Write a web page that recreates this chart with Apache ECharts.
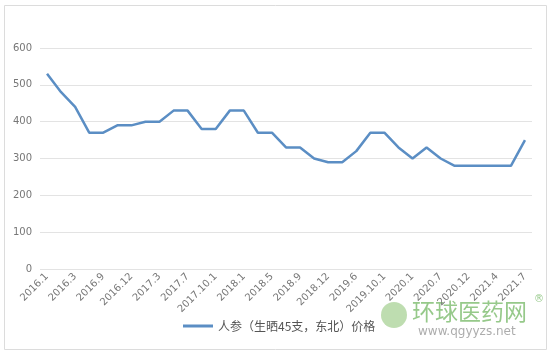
<!DOCTYPE html>
<html><head><meta charset="utf-8">
<script src="https://cdn.jsdelivr.net/npm/echarts@6/dist/echarts.min.js"></script>
<style>html,body{margin:0;padding:0;background:#fff}#c{width:552px;height:357px}</style>
</head><body><div id="c"></div>
<script>
var categories = ['2016.1','2016.2','2016.3','2016.6','2016.9','2016.10','2016.12','2017.1','2017.3','2017.5','2017.7','2017.9','2017.10.1','2017.11','2018.1','2018.3','2018.5','2018.7','2018.9','2018.10','2018.12','2019.3','2019.6','2019.8','2019.10.1','2019.11','2020.1','2020.4','2020.7','2020.9','2020.12','2021.2','2021.4','2021.5','2021.7'];
var prices = [530,480,440,370,370,390,390,400,400,430,430,380,380,430,430,370,370,330,330,300,290,290,320,370,370,330,300,330,300,280,280,280,280,280,350];
var seriesName = '人参（生晒45支，东北）价格';
var yTicks = {min:0, max:600, interval:100};

var chart = echarts.init(document.getElementById('c'));
chart.setOption({
  animation:false,
  backgroundColor:'#fff',
  grid:{left:40, right:20, top:48, bottom:88},
  graphic:[
    {type:'rect', shape:{x:4.5,y:5.5,width:542,height:344}, style:{fill:'none', stroke:'#dcdcdc', lineWidth:1}, silent:true, z:-1},
    {type:'circle', shape:{cx:394, cy:315, r:13}, style:{fill:'rgba(110,180,80,0.45)'}, silent:true},
    {type:'text', left:412, top:300, style:{text:'环球医药网', fill:'rgba(80,165,60,0.6)', font:'23px "Noto Sans CJK SC"'}},
    {type:'text', left:534, top:294, style:{text:'®', fill:'rgba(80,165,60,0.6)', font:'10px "DejaVu Sans"'}},
    {type:'text', left:418, top:326, style:{text:'www.qgyyzs.net', fill:'rgba(90,90,90,0.5)', font:'12px "DejaVu Sans"'}}
  ],
  xAxis:{
    type:'category', data:categories, boundaryGap:true,
    axisLine:{show:false}, axisTick:{show:false},
    axisLabel:{interval:1, rotate:45, color:'#777', fontSize:10, margin:6, fontFamily:'DejaVu Sans'}
  },
  yAxis:{
    type:'value', min:yTicks.min, max:yTicks.max, interval:yTicks.interval,
    axisLine:{show:false}, axisTick:{show:false},
    axisLabel:{color:'#777', fontSize:10, margin:8, fontFamily:'DejaVu Sans'},
    splitLine:{lineStyle:{color:'#e3e3e3', width:1}}
  },
  legend:{
    bottom:20, left:178, itemWidth:30, itemHeight:3, icon:'rect', itemGap:4,
    textStyle:{color:'#555', fontSize:12, fontFamily:'Noto Sans CJK SC'},
    data:[seriesName]
  },
  series:[{
    name:seriesName, type:'line', data:prices, symbol:'none',
    lineStyle:{color:'#5b8ec4', width:2.5}, itemStyle:{color:'#5b8ec4'}
  }]
});
</script></body></html>
